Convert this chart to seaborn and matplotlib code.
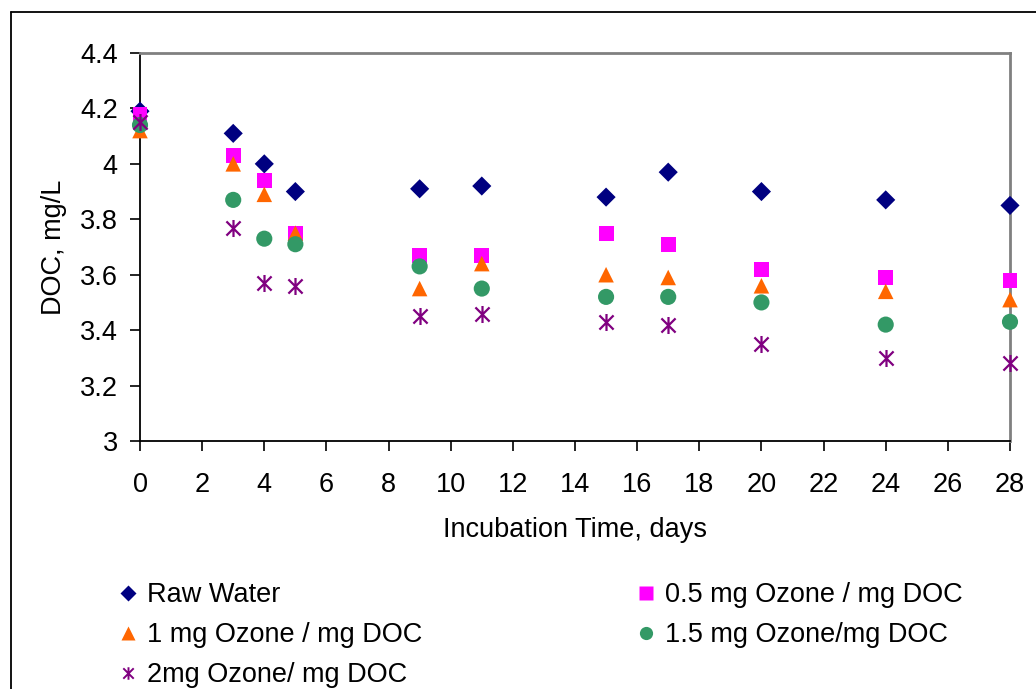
import numpy as np
import pandas as pd
import matplotlib
matplotlib.use("Agg")
import matplotlib.pyplot as plt
from matplotlib.path import Path
from matplotlib.lines import Line2D
import seaborn as sns

days = [0, 3, 4, 5, 9, 11, 15, 17, 20, 24, 28]
raw_water = [4.19, 4.11, 4.00, 3.90, 3.91, 3.92, 3.88, 3.97, 3.90, 3.87, 3.85]
oz_05 = [4.18, 4.03, 3.94, 3.75, 3.67, 3.67, 3.75, 3.71, 3.62, 3.59, 3.58]
oz_1 = [4.12, 4.00, 3.89, 3.75, 3.55, 3.64, 3.60, 3.59, 3.56, 3.54, 3.51]
oz_15 = [4.14, 3.87, 3.73, 3.71, 3.63, 3.55, 3.52, 3.52, 3.50, 3.42, 3.43]
oz_2 = [4.15, 3.77, 3.57, 3.56, 3.45, 3.46, 3.43, 3.42, 3.35, 3.30, 3.28]

series_names = ["Raw Water", "0.5 mg Ozone / mg DOC", "1 mg Ozone / mg DOC",
                "1.5 mg Ozone/mg DOC", "2mg Ozone/ mg DOC"]
series_values = [raw_water, oz_05, oz_1, oz_15, oz_2]
colors = ["#000080", "#FF00FF", "#FF6600", "#339966", "#800080"]

x_ticks = list(range(0, 29, 2))
y_ticks = [3, 3.2, 3.4, 3.6, 3.8, 4, 4.2, 4.4]
y_ticklabels = ["3", "3.2", "3.4", "3.6", "3.8", "4", "4.2", "4.4"]

df = pd.DataFrame({
    "day": np.tile(days, len(series_names)),
    "doc": np.concatenate(series_values),
    "series": np.repeat(series_names, len(days)),
})

sns.set_theme(style="white")
plt.rcParams["font.family"] = ["Liberation Sans", "DejaVu Sans"]
plt.rcParams["text.color"] = "black"
plt.rcParams["axes.labelcolor"] = "black"
plt.rcParams["xtick.color"] = "black"
plt.rcParams["ytick.color"] = "black"

FS = 19.5

star = Path([(-1, -1), (1, 1), (-1, 1), (1, -1), (0, -1.2), (0, 1.2)],
            [Path.MOVETO, Path.LINETO, Path.MOVETO, Path.LINETO, Path.MOVETO, Path.LINETO])
markers = ["D", "s", "^", "o", star]
sizes = [95, 115, 125, 135, 150]

fig = plt.figure(figsize=(10.36, 6.89), dpi=100)
ax = fig.add_axes([140 / 1036, 1 - 441 / 689, 870 / 1036, 388 / 689])

handles = []
for name, c, m, s in zip(series_names, colors, markers, sizes):
    sub = df[df["series"] == name]
    if m is star:
        sns.scatterplot(data=sub, x="day", y="doc", marker=m, s=s, color=c,
                        edgecolor=c, linewidth=1.6, ax=ax, zorder=3, clip_on=False)
        h = Line2D([], [], marker=m, linestyle="none", color=c, markeredgecolor=c,
                   markersize=9, markeredgewidth=1.4)
    else:
        sns.scatterplot(data=sub, x="day", y="doc", marker=m, s=s, color=c,
                        edgecolor="none", linewidth=0, ax=ax, zorder=3, clip_on=False)
        h = Line2D([], [], marker=m, linestyle="none", color=c, markeredgecolor="none",
                   markersize=9.5 if m != "D" else 8)
    handles.append(h)

ax.set_xlim(0, 28)
ax.set_ylim(3, 4.4)
ax.set_xticks(x_ticks)
ax.set_xticklabels([str(t) for t in x_ticks])
ax.set_yticks(y_ticks)
ax.set_yticklabels(y_ticklabels)
ax.tick_params(axis="both", labelsize=FS, colors="black", direction="out",
               length=7, width=1.2, left=True, bottom=True)
ax.tick_params(axis="x", pad=15.3)
ax.tick_params(axis="y", pad=9)
ax.set_xlabel("Incubation Time, days", fontsize=FS, labelpad=13.5)
ax.set_ylabel("DOC, mg/L", fontsize=FS, labelpad=9)
for side in ["left", "bottom"]:
    ax.spines[side].set_color("black")
    ax.spines[side].set_linewidth(1.3)
for side in ["top", "right"]:
    ax.spines[side].set_color("#808080")
    ax.spines[side].set_linewidth(2)
ax.grid(False)

order = [0, 2, 4, 1, 3]
fig.legend([handles[i] for i in order], [series_names[i] for i in order],
           ncol=2, loc="upper left", bbox_to_anchor=(117 / 1036, 1 - 582 / 689),
           frameon=False, fontsize=FS, handlelength=0.8, handletextpad=0.31,
           labelspacing=0.52, columnspacing=7.85, borderaxespad=0, borderpad=0)

# outer chart border (extends beyond right/bottom edges)
fig.add_artist(Line2D([11 / 1036, 1.0], [1 - 12 / 689, 1 - 12 / 689],
                      transform=fig.transFigure, color="black", linewidth=1.3))
fig.add_artist(Line2D([11 / 1036, 11 / 1036], [0, 1 - 12 / 689],
                      transform=fig.transFigure, color="black", linewidth=1.3))

fig.savefig("out.png", dpi=100)
